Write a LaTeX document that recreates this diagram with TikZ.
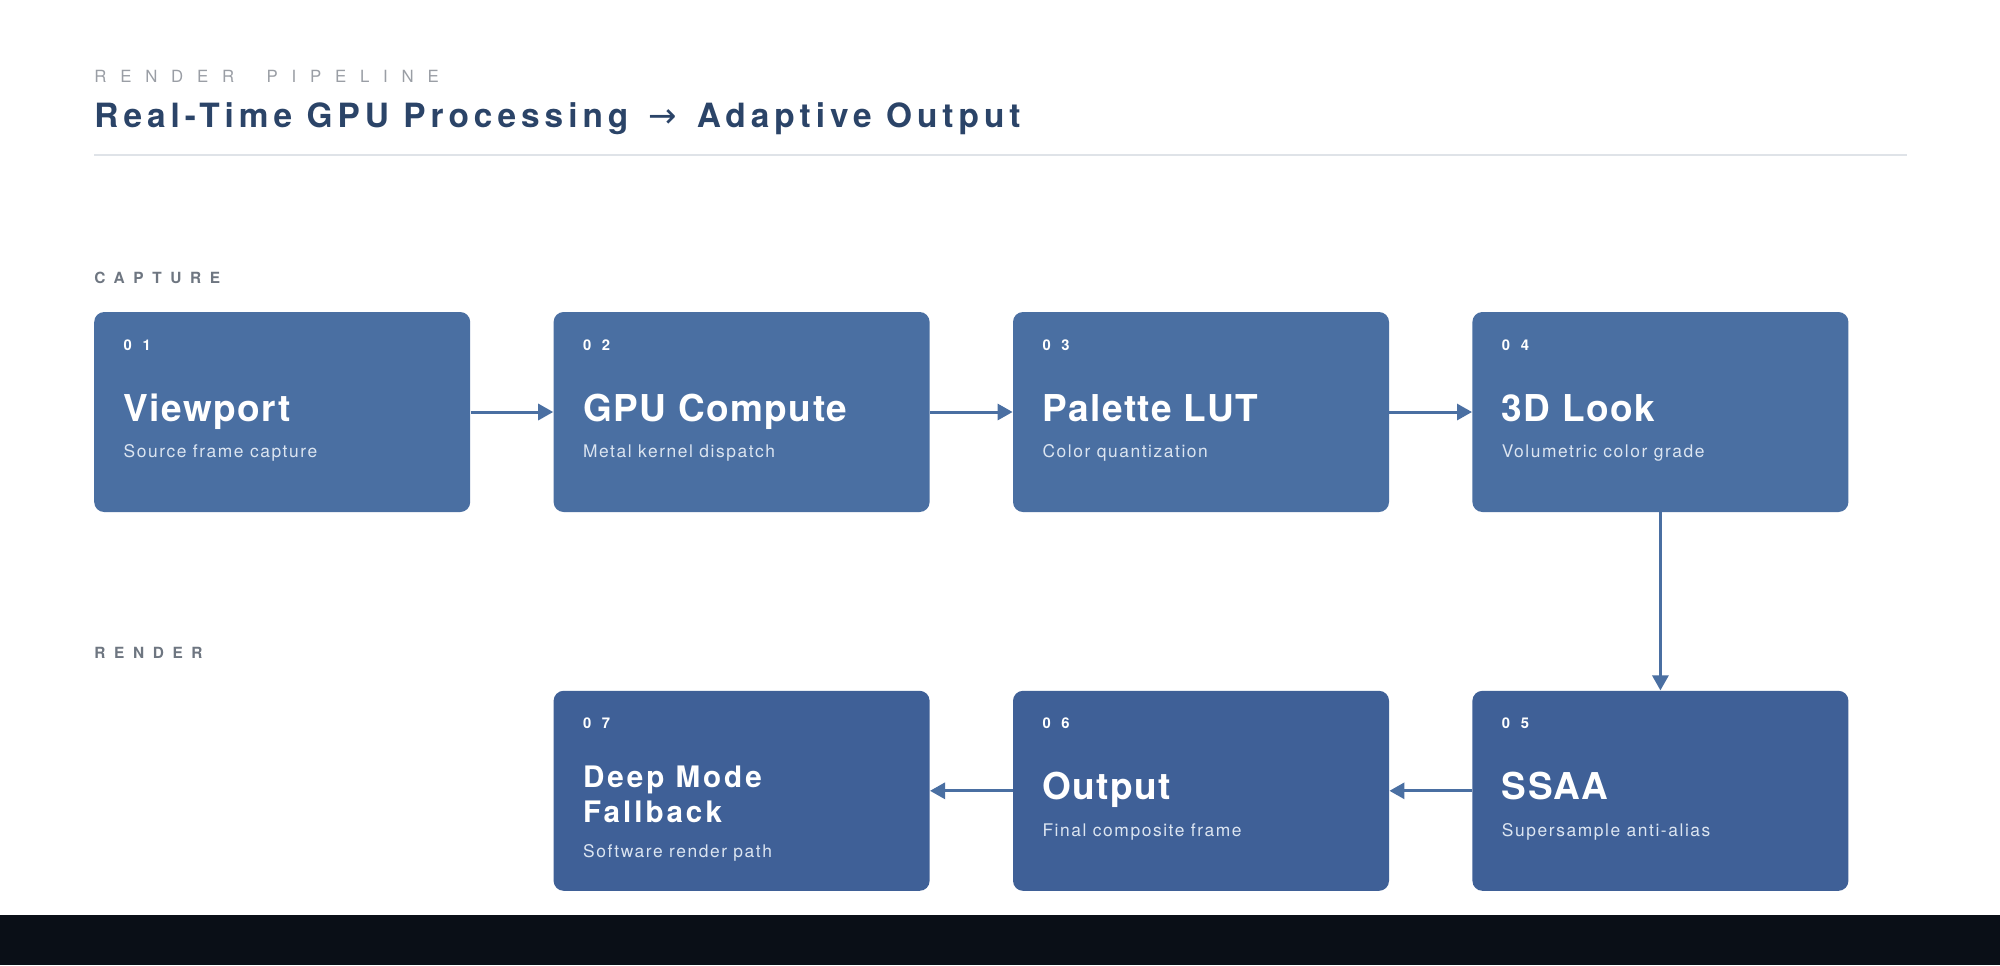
\documentclass[tikz,border=0pt]{standalone}
\usepackage{fontspec}
\setmainfont{TeX Gyre Heros}
\newfontfamily\arrowfont{DejaVu Sans}
\usetikzlibrary{positioning,arrows.meta}
\definecolor{navy}{HTML}{2B4468}
\definecolor{boxA}{HTML}{4A6FA2}
\definecolor{boxB}{HTML}{3F6097}
\definecolor{subtext}{HTML}{DCE5F1}
\definecolor{rulegray}{HTML}{DFE3E8}
\definecolor{labelgray}{HTML}{6E7681}
\definecolor{kickergray}{HTML}{9A9EA5}
\definecolor{band}{HTML}{0A0F17}

\begin{document}
\begin{tikzpicture}[x=0.5pt,y=-0.5pt,
  stage/.style={rectangle,rounded corners=5pt,minimum width=188pt,minimum height=100pt,inner sep=0pt,fill=boxA},
  num/.style={anchor=base west,inner sep=0pt,text=white,font=\bfseries\fontsize{7.4}{8}\selectfont\addfontfeature{LetterSpace=72}},
  ttl/.style={anchor=base west,inner sep=0pt,text=white,font=\bfseries\fontsize{18.5}{20}\selectfont\addfontfeature{LetterSpace=4}},
  sub/.style={anchor=base west,inner sep=0pt,text=subtext,font=\fontsize{8.7}{10}\selectfont\addfontfeature{LetterSpace=9}},
  lane/.style={anchor=base west,inner sep=0pt,text=labelgray,font=\bfseries\fontsize{7.7}{9}\selectfont\addfontfeature{LetterSpace=56}},
  flow/.style={-{Triangle[length=7.5pt,width=8pt]},line width=1.5pt,draw=boxA}]
  \useasboundingbox (0,0) rectangle (2000,965);
  \fill[white] (0,0) rectangle (2000,965);
  \fill[band] (0,915) rectangle (2000,965);

  % header
  \node[anchor=base west,inner sep=0pt,text=kickergray,font=\fontsize{8.4}{10}\selectfont\addfontfeature{LetterSpace=82}] (kicker) at (94,82) {RENDER\hspace{7pt} PIPELINE};
  \node[anchor=base west,inner sep=0pt,text=navy,font=\bfseries\fontsize{16.7}{20}\selectfont\addfontfeature{LetterSpace=15}] (title) at (94,127) {Real-Time GPU Processing {\mdseries\arrowfont\fontsize{17}{18}\selectfont\,→\,} Adaptive Output};
  \draw[rulegray,line width=1pt] (94,155) -- (1907,155);

  \node[lane] (capture) at (94,283) {CAPTURE};
  \node[lane] (render) at (94,658.5) {RENDER};

  % boxes
  \node[stage] (b1) at (282.2,412) {};
  \node[stage] (b2) [right=41.3pt of b1] {};
  \node[stage] (b3) [right=41.3pt of b2] {};
  \node[stage] (b4) [right=41.3pt of b3] {};
  \node[stage,fill=boxB] (b5) [below=89pt of b4] {};
  \node[stage,fill=boxB] (b6) [left=41.3pt of b5] {};
  \node[stage,fill=boxB] (b7) [left=41.3pt of b6] {};

  \node[num] (n1) at ([xshift=14.75pt,yshift=-19.25pt]b1.north west) {01};
  \node[ttl] (t1) at ([xshift=14.75pt,yshift=-54.75pt]b1.north west) {Viewport};
  \node[sub] (s1) at ([xshift=14.75pt,yshift=-72.9pt]b1.north west) {Source frame capture};

  \node[num] (n2) at ([xshift=14.75pt,yshift=-19.25pt]b2.north west) {02};
  \node[ttl] (t2) at ([xshift=14.75pt,yshift=-54.75pt]b2.north west) {GPU Compute};
  \node[sub] (s2) at ([xshift=14.75pt,yshift=-72.9pt]b2.north west) {Metal kernel dispatch};

  \node[num] (n3) at ([xshift=14.75pt,yshift=-19.25pt]b3.north west) {03};
  \node[ttl] (t3) at ([xshift=14.75pt,yshift=-54.75pt]b3.north west) {Palette LUT};
  \node[sub] (s3) at ([xshift=14.75pt,yshift=-72.9pt]b3.north west) {Color quantization};

  \node[num] (n4) at ([xshift=14.75pt,yshift=-19.25pt]b4.north west) {04};
  \node[ttl] (t4) at ([xshift=14.75pt,yshift=-54.75pt]b4.north west) {3D Look};
  \node[sub] (s4) at ([xshift=14.75pt,yshift=-72.9pt]b4.north west) {Volumetric color grade};

  \node[num] (n5) at ([xshift=14.75pt,yshift=-19.25pt]b5.north west) {05};
  \node[ttl] (t5) at ([xshift=14.75pt,yshift=-54.75pt]b5.north west) {SSAA};
  \node[sub] (s5) at ([xshift=14.75pt,yshift=-72.9pt]b5.north west) {Supersample anti-alias};

  \node[num] (n6) at ([xshift=14.75pt,yshift=-19.25pt]b6.north west) {06};
  \node[ttl] (t6) at ([xshift=14.75pt,yshift=-54.75pt]b6.north west) {Output};
  \node[sub] (s6) at ([xshift=14.75pt,yshift=-72.9pt]b6.north west) {Final composite frame};

  \node[num] (n7) at ([xshift=14.75pt,yshift=-19.25pt]b7.north west) {07};
  \node[ttl,anchor=north west,align=left,font=\bfseries\fontsize{14.8}{17.5}\selectfont\addfontfeature{LetterSpace=10}] (t7) at ([xshift=14.75pt,yshift=-37.35pt]b7.north west) {Deep Mode\\Fallback};
  \node[sub] (s7) at ([xshift=14.75pt,yshift=-83.3pt]b7.north west) {Software render path};

  % connectors
  \draw[flow] (b1) -- (b2);
  \draw[flow] (b2) -- (b3);
  \draw[flow] (b3) -- (b4);
  \draw[flow] (b4) -- (b5);
  \draw[flow] (b5) -- (b6);
  \draw[flow] (b6) -- (b7);
\end{tikzpicture}
\end{document}
